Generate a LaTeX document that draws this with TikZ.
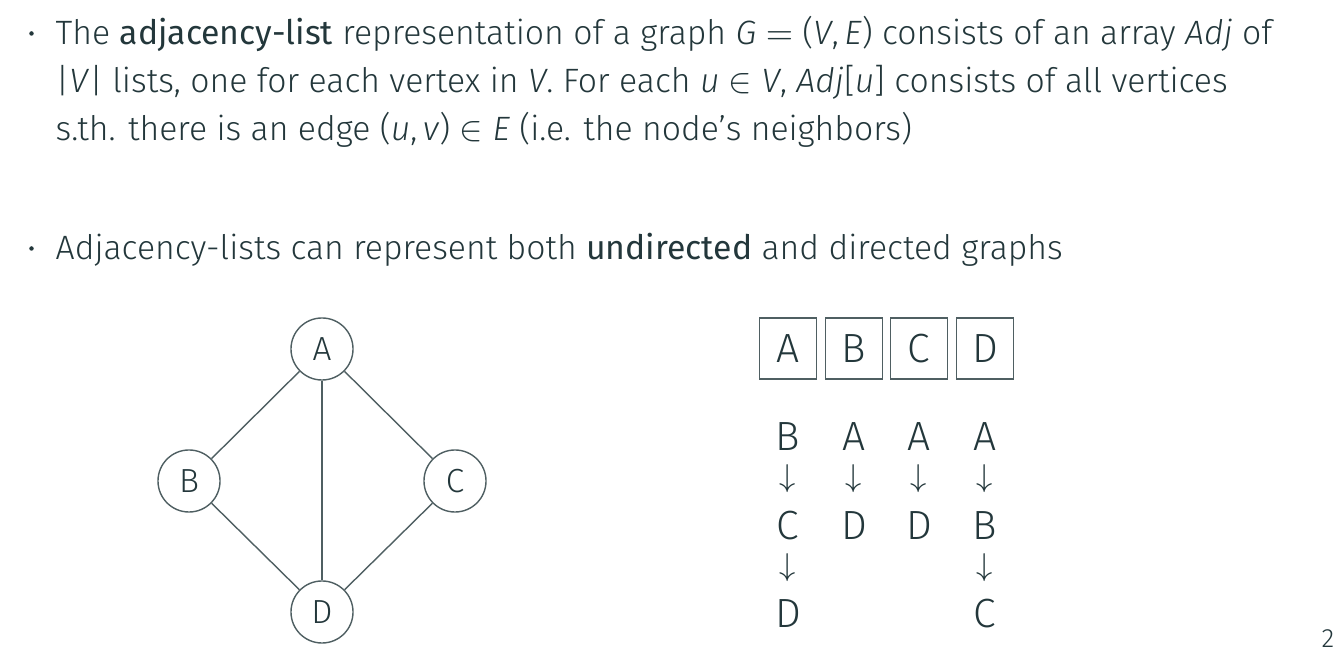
\documentclass[tikz,border=0pt]{standalone}
\usepackage{fontspec}
\setmainfont{Fira Sans}[UprightFont=* Light, ItalicFont=* Light Italic, BoldFont=*]
\usetikzlibrary{positioning}
\definecolor{mdarkteal}{HTML}{23373B}

\begin{document}
\begin{tikzpicture}[
    x=0.01cm, y=-0.01cm,
    color=mdarkteal, font=\fontsize{9.6}{11.5}\selectfont,
    textline/.style={anchor=base west, inner sep=0pt},
    bulletdot/.style={circle, fill=mdarkteal, inner sep=0pt, minimum size=0.045cm},
    vertex/.style={circle, draw=mdarkteal!80, thin, minimum size=0.62cm, inner sep=0pt,
      font=\fontsize{9.5}{11}\selectfont},
    edge/.style={draw=mdarkteal!80, thin},
    slot/.style={draw=mdarkteal!80, thin, minimum width=0.565cm, minimum height=0.61cm,
      inner sep=0pt, font=\fontsize{11.6}{14}\selectfont},
    entry/.style={inner sep=0pt, font=\fontsize{11.6}{14}\selectfont},
    nextarrow/.style={inner sep=0pt, font=\fontsize{9}{11}\selectfont}
  ]
    \useasboundingbox (0,0) rectangle (1334,659);

    % text
    \node[bulletdot] (dot1) at (31.5,33.5) {};
    \node[textline] (line1) at (55,45) {The \textbf{adjacency-list} representation of a graph \textit{G}\;$=$\;(\textit{V},\,\textit{E}\/) consists of an array \textit{Adj} of};
    \node[textline] (line2) at (55,93) {|\textit{V}\/| lists, one for each vertex in \textit{V}. For each \textit{u}\;$\in$\;\textit{V}, \textit{Adj}[\textit{u}] consists of all vertices};
    \node[textline] (line3) at (55,141) {s.th. there is an edge (\textit{u},\,\textit{v}\/)\;$\in$\;\textit{E} (i.e. the node’s neighbors)};
    \node[bulletdot] (dot2) at (31.5,248.5) {};
    \node[textline] (both) at (55,260) {Adjacency-lists can represent both \textbf{undirected} and directed graphs};

    % graph
    \node[vertex] (A) at (322,349) {A};
    \node[vertex] (B) at (189,481) {B};
    \node[vertex] (C) at (455,481) {C};
    \node[vertex] (D) at (322,612) {D};
    \draw[edge] (A) -- (B);
    \draw[edge] (A) -- (C);
    \draw[edge] (A) -- (D);
    \draw[edge] (B) -- (D);
    \draw[edge] (C) -- (D);

    % array of lists
    \node[slot] (adjA) at (788,348.5) {A};
    \node[slot] (adjB) at (854,348.5) {B};
    \node[slot] (adjC) at (919,348.5) {C};
    \node[slot] (adjD) at (985,348.5) {D};

    \node[entry] (a1) at (788,437) {B};
    \node[nextarrow] (a2) at (788,479) {$\downarrow$};
    \node[entry] (a3) at (788,526) {C};
    \node[nextarrow] (a4) at (788,568) {$\downarrow$};
    \node[entry] (a5) at (788,614) {D};

    \node[entry] (b1) at (854,437) {A};
    \node[nextarrow] (b2) at (854,479) {$\downarrow$};
    \node[entry] (b3) at (854,526) {D};

    \node[entry] (c1) at (919,437) {A};
    \node[nextarrow] (c2) at (919,479) {$\downarrow$};
    \node[entry] (c3) at (919,526) {D};

    \node[entry] (d1) at (985,437) {A};
    \node[nextarrow] (d2) at (985,479) {$\downarrow$};
    \node[entry] (d3) at (985,526) {B};
    \node[nextarrow] (d4) at (985,568) {$\downarrow$};
    \node[entry] (d5) at (985,614) {C};

    % page number
    \node[anchor=base east, inner sep=0pt, font=\fontsize{7.5}{9}\selectfont] (page) at (1335,648) {2};
\end{tikzpicture}
\end{document}
